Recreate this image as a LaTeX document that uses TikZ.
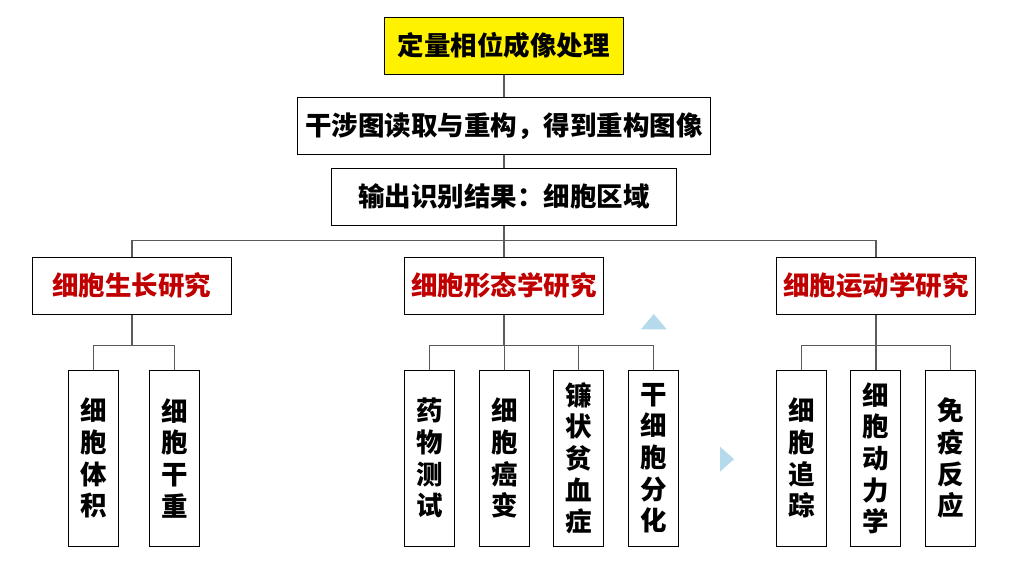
\documentclass[tikz,border=0pt]{standalone}
\usepackage{fontspec}
\newfontfamily\cjk{Noto Sans CJK SC}
\definecolor{catred}{RGB}{192,0,0}
\definecolor{linegray}{RGB}{90,90,90}
\definecolor{triblue}{RGB}{180,218,236}
\tikzset{
  box/.style={draw=black, line width=1pt, inner sep=0pt, font=\cjk\bfseries\fontsize{26.5}{30}\selectfont},
  topbox/.style={box, fill=yellow},
  catbox/.style={box, text=catred, minimum width=199pt, minimum height=56.7pt},
  leaf/.style={box, minimum width=50pt, minimum height=176pt, align=center, font=\cjk\bfseries\fontsize{26.5}{31.7}\selectfont},
  conn/.style={draw=linegray, line width=1.4pt}
}
\begin{document}
\begin{tikzpicture}[x=1pt,y=-1pt]
\useasboundingbox (0,0) rectangle (1024,571);
% top chain
\node[topbox, minimum width=239pt, minimum height=56.7pt] (top) at (503.8,45.7) {定量相位成像处理};
\node[box, minimum width=413pt, minimum height=56.7pt] (recon) at (503.8,125.7) {干涉图读取与重构，得到重构图像};
\node[box, minimum width=345pt, minimum height=57pt] (seg) at (503.8,196.8) {输出识别结果：细胞区域};
% categories
\node[catbox] (growth) at (131.8,285.7) {细胞生长研究};
\node[catbox] (morph) at (503.8,285.7) {细胞形态学研究};
\node[catbox] (motion) at (876,285.7) {细胞运动学研究};
% leaves
\node[leaf] (l1) at (93.5,458.2) {细\\胞\\体\\积};
\node[leaf] (l2) at (174.3,458.2) {细\\胞\\干\\重};
\node[leaf] (m1) at (429.3,458.2) {药\\物\\测\\试};
\node[leaf] (m2) at (504.3,458.2) {细\\胞\\癌\\变};
\node[leaf] (m3) at (578.3,458.2) {镰\\状\\贫\\血\\症};
\node[leaf] (m4) at (653.3,458.2) {干\\细\\胞\\分\\化};
\node[leaf] (r1) at (801.3,458.2) {细\\胞\\追\\踪};
\node[leaf] (r2) at (875.8,458.2) {细\\胞\\动\\力\\学};
\node[leaf] (r3) at (950.3,458.2) {免\\疫\\反\\应};
% junctions
\coordinate (bus) at (503.8,240.7);
\coordinate (jg) at (131.8,345.7);
\coordinate (jm) at (503.8,345.7);
\coordinate (jr) at (876,345.7);
% connectors
\draw[conn] (top) -- (recon);
\draw[conn] (recon) -- (seg);
\draw[conn] (seg) -- (bus);
\draw[conn] (bus) -| (growth);
\draw[conn] (bus) -- (morph);
\draw[conn] (bus) -| (motion);
\draw[conn] (growth) -- (jg);
\draw[conn] (jg) -| (l1);
\draw[conn] (jg) -| (l2);
\draw[conn] (morph) -- (jm);
\draw[conn] (jm) -| (m1);
\draw[conn] (jm) -| (m2);
\draw[conn] (jm) -| (m3);
\draw[conn] (jm) -| (m4);
\draw[conn] (motion) -- (jr);
\draw[conn] (jr) -| (r1);
\draw[conn] (jr) -| (r2);
\draw[conn] (jr) -| (r3);
% light blue triangles
\fill[triblue] (641,329.3) -- (653.8,314) -- (666.7,329.3) -- cycle;
\fill[triblue] (720,446.7) -- (734,459.2) -- (720,471.7) -- cycle;
\end{tikzpicture}
\end{document}
